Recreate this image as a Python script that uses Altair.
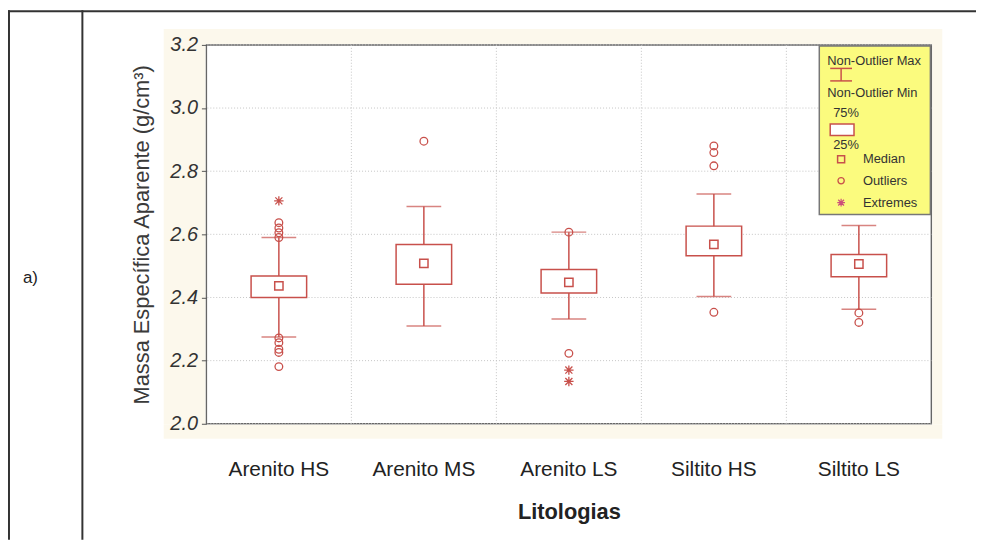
import altair as alt
import pandas as pd

# ---------------- data ----------------
categories = ["Arenito HS", "Arenito MS", "Arenito LS", "Siltito HS", "Siltito LS"]
whisker_min = [2.275, 2.310, 2.332, 2.403, 2.363]
q1 = [2.400, 2.442, 2.414, 2.532, 2.466]
median = [2.437, 2.508, 2.448, 2.568, 2.506]
q3 = [2.468, 2.568, 2.489, 2.626, 2.536]
whisker_max = [2.590, 2.688, 2.607, 2.728, 2.628]

outlier_cat = (["Arenito HS"] * 9 + ["Arenito MS"] + ["Arenito LS"] * 2
               + ["Siltito HS"] * 4 + ["Siltito LS"] * 2)
outlier_val = [2.590, 2.605, 2.620, 2.637, 2.272, 2.257, 2.236, 2.226, 2.181,
               2.895,
               2.607, 2.223,
               2.880, 2.859, 2.817, 2.353,
               2.351, 2.321]
extreme_cat = ["Arenito HS", "Arenito LS", "Arenito LS"]
extreme_val = [2.706, 2.170, 2.134]

y_ticks = [2.0, 2.2, 2.4, 2.6, 2.8, 3.0, 3.2]
y_title = "Massa Específica Aparente (g/cm³)"
x_title = "Litologias"
legend_labels = ["Non-Outlier Max", "Non-Outlier Min", "75%", "25%", "Median", "Outliers", "Extremes"]
panel_label = "a)"

# ---------------- tables ----------------
stats = pd.DataFrame({"cat": categories, "lo": whisker_min, "q1": q1,
                      "med": median, "q3": q3, "hi": whisker_max})
outl = pd.DataFrame({"cat": outlier_cat, "v": outlier_val})
extr = pd.DataFrame({"cat": extreme_cat, "v": extreme_val})
ygrid = pd.DataFrame({"t": y_ticks})
xgrid = pd.DataFrame({"cat": categories[1:]})
one = alt.Data(values=[{"k": 1}])

# ---------------- style ----------------
W, H = 731, 382
RED = "#c8504b"
FONT = "Liberation Sans"
NARROW = "Liberation Sans Narrow, Liberation Sans"
CREAM = "#fcf8ec"
YELLOW = "#fbfb7e"
GRID = "#c4c4c4"
ASTER = "M-1,0L1,0M0,-1L0,1M-0.75,-0.75L0.75,0.75M-0.75,0.75L0.75,-0.75"

xscale = alt.Scale(domain=categories, paddingInner=0, paddingOuter=0)
yscale = alt.Scale(domain=[2.0, 3.2], nice=False, zero=False)

xaxis = alt.Axis(title=x_title, labelAngle=0, labelFont=FONT, labelFontSize=21,
                 labelColor="#222", labelPadding=35, ticks=False, domain=False,
                 grid=False, titleFont=FONT, titleFontSize=22, titleFontWeight="bold",
                 titleColor="#222", titlePadding=23, zindex=1)
yaxis = alt.Axis(title=y_title, values=y_ticks, format=".1f", labelFont=FONT,
                 labelFontSize=20, labelFontStyle="italic", labelColor="#333",
                 labelPadding=4, tickSize=5, tickColor="#555", domain=False,
                 grid=False, titleFont=FONT, titleFontSize=22, titleFontWeight="normal",
                 titleColor="#3a3a3a", titlePadding=17, zindex=1)

X = alt.X("cat:N", scale=xscale, axis=xaxis, sort=categories)


def Y(field):
    return alt.Y(f"{field}:Q", scale=yscale, axis=yaxis)


def vrect(x1, x2, y1, y2, **kw):
    return alt.Chart(one).mark_rect(**kw).encode(
        x=alt.value(x1), x2=alt.value(x2), y=alt.value(y1), y2=alt.value(y2))


def vtext(x, y, s, **kw):
    return alt.Chart(one).mark_text(**kw).encode(
        x=alt.value(x), y=alt.value(y), text=alt.value(s))


def hrule(x1, x2, y, **kw):
    return alt.Chart(one).mark_rule(**kw).encode(
        x=alt.value(x1), x2=alt.value(x2), y=alt.value(y))


def vrule(x, y1, y2, **kw):
    return alt.Chart(one).mark_rule(**kw).encode(
        x=alt.value(x), y=alt.value(y1), y2=alt.value(y2))


# cream background around the plot frame
cream = [
    vrect(-43, 742, -16, -1, fill=CREAM),
    vrect(-43, 742, H + 1, 397, fill=CREAM),
    vrect(-43, -1, -1, H + 1, fill=CREAM),
    vrect(W + 1, 742, -1, H + 1, fill=CREAM),
]

# dotted grid lines (drawn below the boxes)
grid_h = alt.Chart(ygrid).mark_rule(color=GRID, strokeDash=[1, 2], strokeWidth=1).encode(
    y=Y("t"))
grid_v = alt.Chart(xgrid).mark_rule(color=GRID, strokeDash=[1, 2], strokeWidth=1).encode(
    x=alt.X("cat:N", scale=xscale, axis=xaxis, sort=categories, bandPosition=0))

# box plot marks
stem = alt.Chart(stats).mark_rule(color=RED, strokeWidth=1.5).encode(
    x=X, y=Y("lo"), y2="hi")
box = alt.Chart(stats).mark_bar(size=56, fill="white", stroke=RED, strokeWidth=1.5).encode(
    x=X, y=Y("q1"), y2="q3")
cap_lo = alt.Chart(stats).mark_tick(size=35, thickness=1.5, color=RED, orient="horizontal").encode(
    x=X, y=Y("lo"))
cap_hi = alt.Chart(stats).mark_tick(size=35, thickness=1.5, color=RED, orient="horizontal").encode(
    x=X, y=Y("hi"))
med = alt.Chart(stats).mark_point(shape="square", size=70, filled=False, color=RED,
                                  strokeWidth=1.5, opacity=1).encode(x=X, y=Y("med"))
outs = alt.Chart(outl).mark_point(shape="circle", size=60, filled=False, color=RED,
                                  strokeWidth=1.3, opacity=1).encode(x=X, y=Y("v"))
exts = alt.Chart(extr).mark_point(shape=ASTER, size=90, filled=False, color=RED,
                                  strokeWidth=1.3, opacity=1).encode(x=X, y=Y("v"))

# custom legend (Statistica style)
LX = 618
TXT = dict(align="left", baseline="middle", font=NARROW, fontSize=13, color="#333")
leg = [
    vrect(LX, 730, 1, 171, fill=YELLOW, stroke="#777", strokeWidth=1.5),
    vtext(626, 16, legend_labels[0], **TXT),
    hrule(629, 651, 23.7, color=RED, strokeWidth=1.5),
    vrule(640, 23.7, 36.3, color=RED, strokeWidth=1.5),
    hrule(629, 651, 36.3, color=RED, strokeWidth=1.5),
    vtext(626, 48.7, legend_labels[1], **TXT),
    vtext(632, 68.7, legend_labels[2], **TXT),
    vrect(629, 653, 79.7, 91.3, fill="white", stroke=RED, strokeWidth=1.5),
    vtext(632, 101, legend_labels[3], **TXT),
    alt.Chart(one).mark_point(shape="square", size=50, filled=False, color=RED, strokeWidth=1.5, opacity=1).encode(
        x=alt.value(640), y=alt.value(115.3)),
    vtext(662, 115.3, legend_labels[4], **TXT),
    alt.Chart(one).mark_point(shape="circle", size=40, filled=False, color=RED, strokeWidth=1.3, opacity=1).encode(
        x=alt.value(640), y=alt.value(137)),
    vtext(662, 137, legend_labels[5], **TXT),
    alt.Chart(one).mark_point(shape=ASTER, size=60, filled=False, color="#cc4f7a", strokeWidth=1.2, opacity=1).encode(
        x=alt.value(640), y=alt.value(159)),
    vtext(662, 159, legend_labels[6], **TXT),
]

# table cell borders and panel label
PAD_L, PAD_T, PAD_R, PAD_B = 200, 35, 45, 117
table = [
    hrule(-PAD_L, W + PAD_R, -PAD_T + 1, color="#333", strokeWidth=2),
    vrule(-PAD_L + 1, -PAD_T, H + PAD_B, color="#333", strokeWidth=2),
    vrule(-125, -PAD_T, H + PAD_B, color="#333", strokeWidth=2),
    vtext(-185, 235, panel_label, align="left", baseline="middle", font=FONT, fontSize=17, color="#222"),
]

chart = alt.layer(
    *cream, grid_h, grid_v, stem, box, cap_lo, cap_hi, med, outs, exts, *leg, *table
).properties(
    width=W, height=H,
    autosize=alt.AutoSizeParams(type="none"),
    padding={"left": PAD_L, "top": PAD_T, "right": PAD_R, "bottom": PAD_B},
    background="white",
).configure_view(stroke="#666", strokeWidth=1.5, fill="white")

chart.save("out.html", embed_options={"renderer": "svg", "actions": False})
